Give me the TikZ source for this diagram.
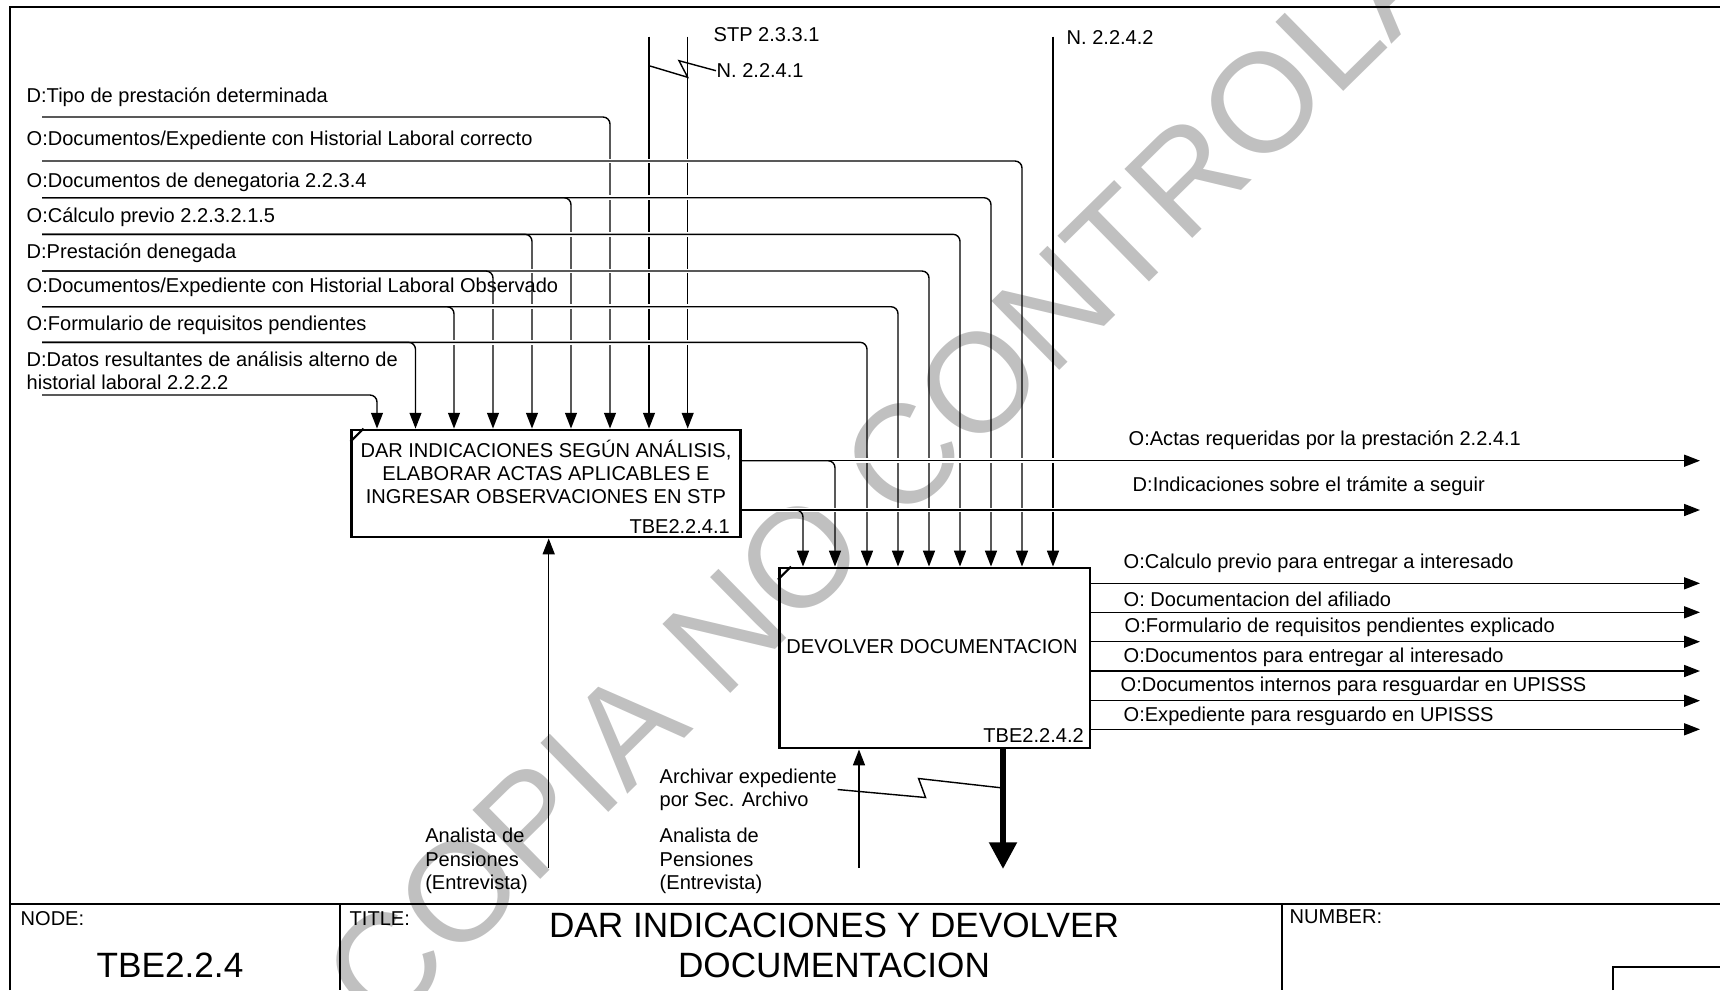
\documentclass[tikz,border=0pt]{standalone}
\usepackage{fontspec}
\setmainfont{Liberation Sans}
\usetikzlibrary{arrows.meta,calc,positioning}
\definecolor{wmgray}{RGB}{192,192,192}

\tikzset{
  idefbox/.style={draw,line width=0.8pt,inner sep=0pt},
  flow/.style={line width=0.4pt,rounded corners=2pt,-{Triangle[length=4.5pt,width=3.4pt]}},
  callflow/.style={line width=1.7pt,-{Triangle[length=7.6pt,width=7.6pt]}},
  gap/.style={draw=white,line width=1.3pt},
  squig/.style={line width=0.4pt},
  lbl/.style={font=\fontsize{5.7}{6.6}\selectfont,inner sep=0pt,anchor=west,align=left},
  bigtxt/.style={font=\fontsize{10}{11.4}\selectfont,inner sep=0pt,align=center},
  borderline/.style={line width=0.6pt},
}

\begin{document}
\begin{tikzpicture}[x=0.01cm,y=-0.01cm,>=Stealth]
    \useasboundingbox (0,0) rectangle (1720,990);

    % Watermark
    \node[text=wmgray,font=\fontsize{40}{44}\selectfont,rotate=44.5] (wm) at (956,404) {COPIA NO CONTROLADA};

    % Frame and title block
    \draw[borderline] (10,990) -- (10,7) -- (1720,7);
    \draw[borderline] (10,904) -- (1720,904);
    \draw[borderline] (340,904) -- (340,990);
    \draw[borderline] (1281.7,904) -- (1281.7,990);
    \draw[line width=0.4pt] (1613,990) -- (1613,967) -- (1720,967);

    \node[lbl] (nodehd) at (20,919) {NODE:};
    \node[lbl] (titlehd) at (349,919) {TITLE:};
    \node[lbl] (numhd) at (1289,917) {NUMBER:};
    \node[bigtxt] (nodeid) at (170,965) {TBE2.2.4};
    \node[bigtxt] (title) at (834,945) {DAR INDICACIONES Y DEVOLVER\\DOCUMENTACION};

    % Activity boxes
    \node[idefbox,minimum width=3.88cm,minimum height=1.07cm] (b1) at (546,483.5) {};
    \node[idefbox,minimum width=3.105cm,minimum height=1.80cm] (b2) at (934.7,658) {};
    \draw[line width=0.6pt] ($(b1.north west)+(0,13)$) -- ($(b1.north west)+(13,0)$);
    \draw[line width=0.6pt] ($(b2.north west)+(0,13)$) -- ($(b2.north west)+(13,0)$);

    \node[lbl,anchor=center,align=center] (b1txt) at (546,472) {DAR INDICACIONES SEGÚN ANÁLISIS,\\ELABORAR ACTAS APLICABLES E\\INGRESAR OBSERVACIONES EN STP};
    \node[lbl,anchor=south east] (b1id) at ($(b1.south east)+(-11,-4)$) {TBE2.2.4.1};
    \node[lbl,anchor=center] (b2txt) at (932,647) {DEVOLVER DOCUMENTACION};
    \node[lbl,anchor=south east] (b2id) at ($(b2.south east)+(-7,-6)$) {TBE2.2.4.2};

    % Controls from the top
    \coordinate (stp) at (649,36.7);
    \coordinate (n1) at (687.7,36.7);
    \coordinate (n2) at (1053,36.7);
    \draw[flow] (stp) -- (stp |- b1.north);
    \draw[flow] (n1) -- (n1 |- b1.north);
    \draw[flow] (n2) -- (n2 |- b2.north);
    \node[lbl] (stplab) at (713,34.3) {STP 2.3.3.1};
    \node[lbl] (n1lab) at (716,70.7) {N. 2.2.4.1};
    \node[lbl] (n2lab) at (1066,37) {N. 2.2.4.2};
    \draw[squig] ($(stp)+(0,29)$) -- ++(38.7,11.6) -- ++(-8.7,-16.6) -- (n1lab.west);

    % Inputs from the left
    \foreach \n/\y in {1/117,2/161,3/197.7,4/234.3,5/271,6/306.7,7/342.3,8/395}
        \coordinate (in\n) at (42,\y);

    \draw[flow] (in1) -| (610,0 |- b1.north);
    \draw[gap] (in2) -- ++(970,0);
    \draw[flow] (in2) -| (1022,0 |- b2.north);
    \foreach \n/\xa/\xb in {3/571/991,4/532/960,5/493/929,6/454/898,7/415.5/867}{
        \draw[gap] (in\n) -- ($(\xb,0 |- in\n)+(-8,0)$);
        \draw[flow] (in\n) -| (\xa,0 |- b1.north);
        \draw[flow] (in\n) -| (\xb,0 |- b2.north);
    }
    \draw[flow] (in8) -| (377,0 |- b1.north);

    \node[lbl] (lab1) at (26,97) {D:Tipo de prestación determinada};
    \node[lbl] (lab2) at (26,140) {O:Documentos/Expediente con Historial Laboral correcto};
    \node[lbl] (lab3) at (26,182) {O:Documentos de denegatoria 2.2.3.4};
    \node[lbl] (lab4) at (26,217) {O:Cálculo previo 2.2.3.2.1.5};
    \node[lbl] (lab5) at (26,252.7) {D:Prestación denegada};
    \node[lbl] (lab6) at (26,287.3) {O:Documentos/Expediente con Historial Laboral Observado};
    \node[lbl] (lab7) at (26,325) {O:Formulario de requisitos pendientes};
    \node[lbl] (lab8) at (26,371) {D:Datos resultantes de análisis alterno de\\historial laboral 2.2.2.2};

    % Outputs of the first box
    \coordinate (o1) at (1700,460.7);
    \coordinate (o2) at (1700,510);
    \draw[gap] (b1.east |- o1) -- (o1);
    \draw[flow] (b1.east |- o1) -- (o1);
    \draw[flow] (b1.east |- o1) -| (835,0 |- b2.north);
    \draw[gap] (b1.east |- o2) -- (o2);
    \draw[flow] (b1.east |- o2) -- (o2);
    \draw[flow] (b1.east |- o2) -| (803,0 |- b2.north);
    \node[lbl] (olab1) at (1128,440) {O:Actas requeridas por la prestación 2.2.4.1};
    \node[lbl] (olab2) at (1132,486) {D:Indicaciones sobre el trámite a seguir};

    % Outputs of the second box
    \foreach \n/\y in {1/583.3,2/612.3,3/641.7,4/671,5/700.7,6/729.3}{
        \coordinate (q\n) at (1700,\y);
        \draw[flow] (b2.east |- q\n) -- (q\n);
    }
    \node[lbl] (qlab1) at (1123,563) {O:Calculo previo para entregar a interesado};
    \node[lbl] (qlab2) at (1123,599) {O: Documentacion del afiliado};
    \node[lbl] (qlab3) at (1124,627) {O:Formulario de requisitos pendientes explicado};
    \node[lbl] (qlab4) at (1123,657) {O:Documentos para entregar al interesado};
    \node[lbl] (qlab5) at (1120,686) {O:Documentos internos para resguardar en UPISSS};
    \node[lbl] (qlab6) at (1123,716) {O:Expediente para resguardo en UPISSS};

    % Mechanisms and call
    \coordinate (m1) at (548.7,868);
    \coordinate (m2) at (859,868);
    \coordinate (c2) at (1003,869);
    \draw[flow] (m1) -- (m1 |- b1.south);
    \draw[flow] (m2) -- (m2 |- b2.south);
    \draw[callflow] (c2 |- b2.south) -- (c2);
    \node[lbl] (mech1) at (424.6,861) {Analista de\\Pensiones\\(Entrevista)};
    \node[lbl] (mech2) at (659,861) {Analista de\\Pensiones\\(Entrevista)};
    \node[lbl] (arch) at (659,789.5) {Archivar expediente\\por Sec. Archivo};
    \draw[squig] (arch.east) -- ++(88,8) -- ++(-7,-19) -- (c2 |- 0,788);
\end{tikzpicture}
\end{document}
